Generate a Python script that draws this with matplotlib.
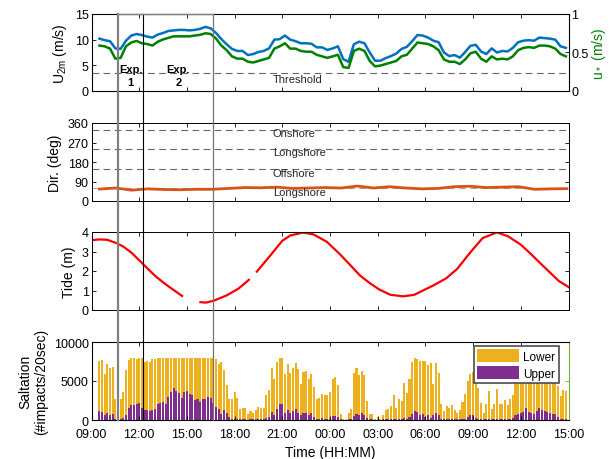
import numpy as np
import matplotlib
matplotlib.use('Agg')
import matplotlib.pyplot as plt
from matplotlib.lines import Line2D
from matplotlib import transforms

plt.rcParams['font.family'] = ['Liberation Sans', 'DejaVu Sans']
plt.rcParams['mathtext.default'] = 'regular'

# time axis in hours after 09:00 (day 1) -> 15:00 (day 2)
tick_hours = [0, 3, 6, 9, 12, 15, 18, 21, 24, 27, 30]
tick_labels = ['09:00', '12:00', '15:00', '18:00', '21:00', '00:00',
               '03:00', '06:00', '09:00', '12:00', '15:00']

# wind speed at 2 m (m/s), every 20 min from 09:30
u2m = [10.2, 9.9, 9.7, 8.3, 8.2, 9.8, 10.8, 11.1, 10.9, 10.6,
       10.4, 11.0, 11.3, 11.7, 11.8, 11.9, 11.9, 11.8, 11.9, 12.1,
       12.5, 12.2, 11.3, 10.1, 9.1, 8.2, 7.8, 7.8, 7.0, 7.2,
       7.6, 7.8, 8.3, 10.0, 10.1, 10.8, 10.0, 9.7, 9.3, 9.3,
       9.2, 8.5, 8.5, 8.0, 8.3, 8.7, 6.2, 5.7, 9.1, 9.6,
       9.3, 7.5, 5.9, 5.9, 6.4, 6.8, 7.3, 8.2, 8.6, 9.7,
       10.9, 10.8, 10.4, 9.8, 9.5, 7.5, 6.8, 7.0, 6.5, 7.6,
       8.8, 9.0, 7.7, 7.2, 8.3, 7.5, 7.8, 7.7, 8.4, 9.5,
       9.8, 9.9, 9.8, 10.4, 10.3, 10.2, 10.0, 8.7, 8.4]

# shear velocity u* (m/s), same times
u_star = [0.59, 0.58, 0.55, 0.42, 0.43, 0.58, 0.63, 0.65, 0.62, 0.61,
          0.59, 0.64, 0.67, 0.69, 0.71, 0.71, 0.71, 0.71, 0.72, 0.73,
          0.75, 0.74, 0.68, 0.59, 0.53, 0.45, 0.42, 0.42, 0.38, 0.37,
          0.39, 0.41, 0.43, 0.55, 0.58, 0.62, 0.55, 0.55, 0.52, 0.51,
          0.51, 0.47, 0.45, 0.43, 0.45, 0.47, 0.31, 0.30, 0.52, 0.55,
          0.52, 0.39, 0.32, 0.33, 0.35, 0.37, 0.39, 0.45, 0.47, 0.55,
          0.63, 0.62, 0.61, 0.58, 0.53, 0.41, 0.38, 0.38, 0.35, 0.41,
          0.49, 0.51, 0.42, 0.38, 0.45, 0.41, 0.42, 0.41, 0.45, 0.53,
          0.56, 0.57, 0.56, 0.59, 0.59, 0.58, 0.55, 0.48, 0.45]

threshold = 3.6

# wind direction (deg), hourly
wind_dir = [55, 60, 50, 56, 53, 52, 54, 54, 58, 62,
            61, 64, 58, 60, 62, 60, 69, 60, 66, 60,
            56, 58, 66, 68, 62, 64, 66, 54, 56, 57]
dir_lines = [60, 150, 240, 330]
dir_names = ['Longshore', 'Offshore', 'Longshore', 'Onshore']
dir_text_y = [40, 129, 226, 312]

# tide (m), nan = no data
t_tide = [0, 0.5, 1, 1.6, 2, 2.5, 3, 3.5, 4, 4.5,
          5, 5.35, 5.7, 6.2, 6.85, 7.2, 7.7, 8.5, 9.25, 9.9,
          10.1, 10.4, 11.2, 12, 12.5, 13.3, 13.95, 14.8, 15.6, 16.3,
          16.9, 17.5, 18.1, 18.8, 19.6, 20.3, 21.5, 22.3, 23, 23.8,
          24.6, 25.5, 26.2, 27, 27.6, 28.2, 28.8, 29.4, 30]
tide = [3.58, 3.62, 3.60, 3.42, 3.25, 2.95, 2.55, 2.15, 1.75, 1.42,
        1.12, 0.92, 0.72, np.nan, 0.40, 0.38, 0.48, 0.75, 1.10, 1.55,
        np.nan, 1.97, 2.75, 3.55, 3.82, 3.97, 3.88, 3.50, 2.88, 2.28,
        1.76, 1.38, 1.05, 0.78, 0.70, 0.78, 1.26, 1.62, 2.11, 2.93,
        3.69, 3.98, 3.78, 3.35, 2.90, 2.42, 1.95, 1.48, 1.18]

# saltation counts (#impacts/20sec), every 10 min from 09:30
salt_lower = [7520, 7650, 5850, 7140, 6620, 6840, 2650, 2520, 2650, 3630,
              6410, 7740, 7990, 7900, 7780, 7990, 7900, 7480, 7610, 7480,
              7820, 7820, 7900, 7990, 7990, 7990, 7990, 7990, 7990, 7990,
              7990, 7990, 7990, 7990, 7990, 7990, 7990, 7990, 7990, 7990,
              7990, 7990, 7990, 7990, 7860, 7140, 7440, 6370, 4440, 2650,
              2650, 3630, 2860, 1450, 1580, 1500, 730, 1150,
              850, 1240, 1710, 1500, 1500, 3250, 3850, 6710, 5300, 7440,
              7990, 7900, 5850, 7220, 6070, 6620, 7350, 6500, 4570, 6200,
              6280, 5210, 5850, 4230, 2650, 2860, 3380, 3160, 3160, 3630,
              5300, 5560, 4440, 810, 90, 170, 940, 1450, 6070, 6620,
              5730, 6280, 5730, 2440, 730, 730, 90, 380, 170, 680,
              1280, 1370, 1790, 3160, 1500, 2650, 2440, 4790, 3420,
              5210, 7480, 7990, 7860, 7560, 7560, 7560, 7010, 7350, 4570,
              7350, 6070, 2010, 1150, 1790, 1580, 1880, 1280, 850, 1280,
              2310, 3290, 5000, 5940, 6200, 4790, 4150, 2220, 850, 2010,
              3720, 1370, 2010, 3930, 2010, 2010, 2560, 1880, 2650, 3160,
              5200, 5600, 6000, 6300, 6600, 6200, 6800, 6400, 6000, 6500,
              6100, 5800, 6300, 5900, 5400, 5000, 4400, 3100, 3800, 3700]
salt_upper = [1150, 1030, 600, 850, 600, 730, 170, 100, 170, 260,
              600, 1580, 1880, 1920, 2010, 2220, 1580, 1240, 1240, 1150,
              1240, 1370, 2010, 2220, 2310, 2010, 2990, 3590, 4060, 3720,
              3420, 2860, 3590, 3720, 3290, 3160, 2560, 2740, 2310, 2740,
              2740, 2950, 2860, 2140, 1710, 1370, 730, 1280, 940, 430,
              170, 170, 170, 90, 90, 90, 50, 90,
              170, 170, 130, 130, 170, 300, 430, 1030, 600, 1370,
              2010, 2010, 940, 1280, 850, 1150, 1450, 850, 600, 850,
              850, 600, 850, 430, 170, 170, 210, 170, 90, 170,
              510, 510, 430, 90, 0, 0, 90, 90, 510, 730,
              600, 850, 600, 300, 90, 90, 0, 0, 0, 90,
              90, 90, 90, 170, 90, 90, 90, 260, 170,
              430, 730, 1150, 1030, 600, 730, 430, 600, 300, 600,
              850, 600, 170, 90, 90, 90, 90, 90, 90, 90,
              90, 170, 430, 600, 600, 300, 170, 90, 90, 90,
              90, 90, 170, 170, 90, 170, 170, 90, 170, 300,
              600, 730, 850, 1030, 1580, 1030, 850, 730, 1150, 1580,
              1280, 1150, 1030, 850, 730, 730, 430, 170, 170, 170]

# experiment windows (hours after 09:00)
exp_edges = [1.65, 3.26, 7.66]

t_wind = 0.5 + np.arange(len(u2m)) / 3
t_dir = np.linspace(0.5, 29.9, len(wind_dir))
t_salt = 0.5 + np.arange(len(salt_lower)) / 6

W, H = 610, 460
fig = plt.figure(figsize=(W / 100, H / 100), dpi=100)


def box(top, bottom):
    return [91.5 / W, 1 - bottom / H, 477 / W, (bottom - top) / H]


def style(ax, right=True):
    ax.set_xlim(0, 30)
    ax.set_xticks(tick_hours)
    ax.tick_params(direction='in', length=3, width=0.6, labelsize=9,
                   top=True, right=right, pad=2)
    for s in ax.spines.values():
        s.set_linewidth(0.7)


ax1 = fig.add_axes(box(15, 92))
ax2 = fig.add_axes(box(124, 202))
ax3 = fig.add_axes(box(233, 311))
ax4 = fig.add_axes(box(343, 421))

# wind speed
style(ax1, right=False)
ax1.plot(t_wind, u2m, color='#0072BD', lw=1.8)
ax1.axhline(threshold, color='0.4', lw=0.8, dashes=(6, 4))
ax1.set_ylim(0, 15)
ax1.set_yticks([0, 5, 10, 15])
ax1.set_xticklabels([])
ax1.set_ylabel('U$_{2m}$ (m/s)', fontsize=10)
ax1.text(11.4, 2.3, 'Threshold', fontsize=8, va='center', ha='left', color='0.15')
for x0, x1, lab in [(exp_edges[0], exp_edges[1], '1'), (exp_edges[1], exp_edges[2], '2')]:
    xm = (x0 + x1) / 2
    ax1.text(xm, 4.3, 'Exp.', fontsize=8, fontweight='bold', ha='center', va='center')
    ax1.text(xm, 1.7, lab, fontsize=8, fontweight='bold', ha='center', va='center')

ax1r = ax1.twinx()
ax1r.plot(t_wind, u_star, color='#008000', lw=1.8)
ax1r.set_ylim(0, 1)
ax1r.set_yticks([0, 0.5, 1])
ax1r.set_yticklabels(['0', '0.5', '1'])
ax1r.tick_params(direction='in', length=3, width=0.6, labelsize=9, pad=2)
ax1r.set_ylabel('u$_*$ (m/s)', fontsize=10, color='#008000', labelpad=1)

# wind direction
style(ax2)
for yl in dir_lines:
    ax2.axhline(yl, color='0.65' if yl == 60 else '0.4', lw=0.8, dashes=(6, 4))
for yt, name in zip(dir_text_y, dir_names):
    ax2.text(11.4, yt, name, fontsize=8, va='center', ha='left', color='0.15')
ax2.plot(t_dir, wind_dir, color='#D95319', lw=2)
ax2.set_ylim(0, 360)
ax2.set_yticks([0, 90, 180, 270, 360])
ax2.set_xticklabels([])
ax2.set_ylabel('Dir. (deg)', fontsize=10)

# tide
style(ax3)
ax3.plot(t_tide, tide, color='#FF0000', lw=1.6)
ax3.set_ylim(0, 4)
ax3.set_yticks([0, 1, 2, 3, 4])
ax3.set_xticklabels([])
ax3.set_ylabel('Tide (m)', fontsize=10)

# saltation
style(ax4, right=False)
ax4.bar(t_salt, salt_lower, width=0.13, color='#EDB120', edgecolor='none', label='Lower')
ax4.bar(t_salt, salt_upper, width=0.13, color='#7E2F8E', edgecolor='none', label='Upper')
ax4.set_ylim(0, 10000)
ax4.set_yticks([0, 5000, 10000])
ax4.set_xticklabels(tick_labels)
ax4.tick_params(axis='x', pad=6)
ax4.set_xlabel('Time (HH:MM)', fontsize=10, labelpad=3)
ax4.set_ylabel('Saltation\n(#impacts/20sec)', fontsize=10)
leg = ax4.legend(loc='upper right', bbox_to_anchor=(0.98, 0.95), fontsize=8.5,
                 fancybox=False, edgecolor='0.3', framealpha=1,
                 handlelength=3.5, handleheight=1.3, borderaxespad=0,
                 labelspacing=0.3, handletextpad=0.4, borderpad=0.3)
leg.get_frame().set_linewidth(1.2)

ax4r = ax4.twinx()
ax4r.set_ylim(0, 1)
ax4r.set_yticks([0, 0.5, 1])
ax4r.set_yticklabels([])
ax4r.spines['right'].set_color('#77AC30')
ax4r.tick_params(direction='in', length=3, width=0.6, colors='#77AC30')

# experiment box across all panels
top = ax1.get_position().y1
bot = ax4.get_position().y0
trans = transforms.blended_transform_factory(ax4.transData, fig.transFigure)
fig.add_artist(Line2D([exp_edges[0]] * 2, [bot, top], transform=trans, color='0.5', lw=1.6))
fig.add_artist(Line2D([exp_edges[1]] * 2, [bot, top], transform=trans, color='k', lw=0.8))
fig.add_artist(Line2D([exp_edges[2]] * 2, [bot, top], transform=trans, color='0.45', lw=0.9))
fig.add_artist(Line2D([exp_edges[0], exp_edges[2]], [top, top], transform=trans, color='0.5', lw=1.0))

fig.savefig('out.png', dpi=100)
